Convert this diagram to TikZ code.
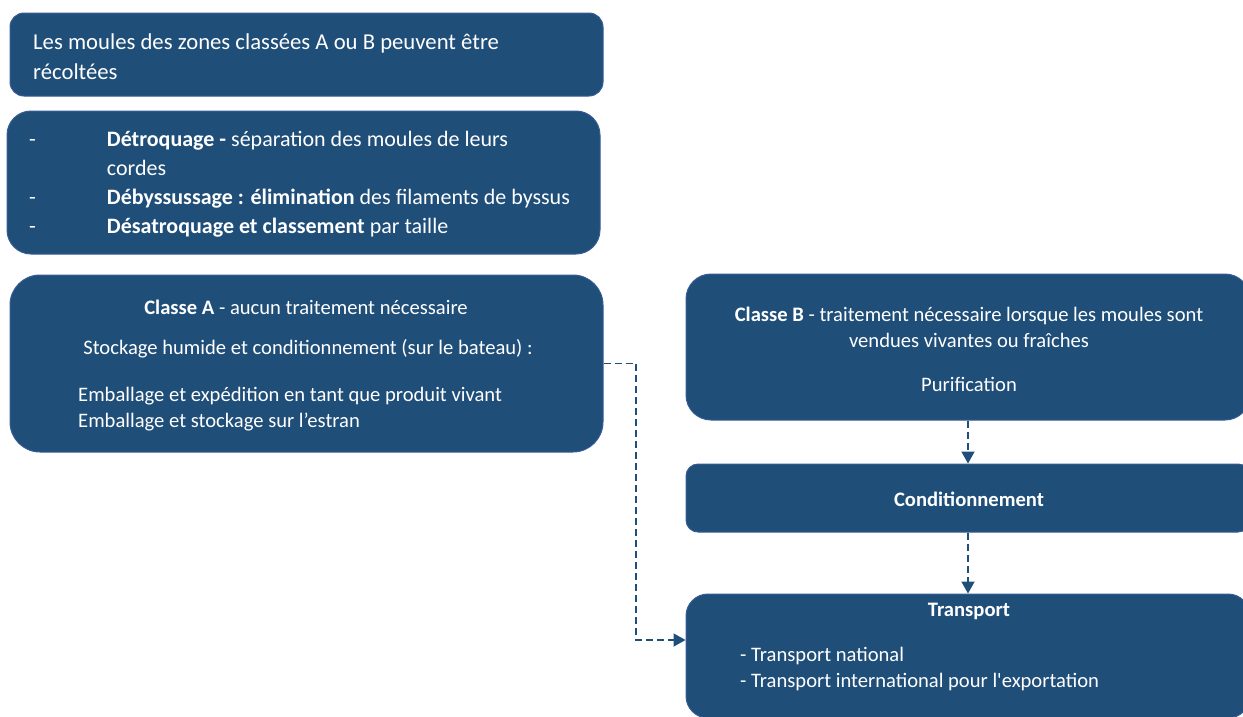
\documentclass[tikz,border=0pt]{standalone}
\usepackage{fontspec}
\setmainfont{Carlito}[Ligatures=TeXOff]
\usetikzlibrary{arrows.meta,positioning}
\definecolor{boxblue}{RGB}{31,78,121}
\definecolor{boxedge}{RGB}{55,92,150}

\begin{document}
\begin{tikzpicture}[x=1pt,y=-1pt,
        box/.style={draw=boxedge, line width=1pt, fill=boxblue, inner sep=0pt},
        txt/.style={text=white, inner sep=0pt},
        flow/.style={draw=boxblue, line width=1.8pt, dash pattern=on 7pt off 4pt,
            -{Triangle[length=12pt,width=13pt]}}]

        \useasboundingbox (0,0) rectangle (1243,716);
        \clip (0,0) rectangle (1243,716);

        % Harvest
        \node[box, rounded corners=14pt, minimum width=593pt, minimum height=83pt] (harvest) at (306.5,54.5) {};
        \node[txt, anchor=west, align=left, font=\fontsize{22.7}{30}\selectfont] (harvestT) at (33,57)
            {Les moules des zones classées A ou B peuvent être\\récoltées};

        % Preparation steps
        \node[box, rounded corners=24pt, minimum width=593pt, minimum height=143pt] (steps) at (303.5,182.5) {};
        \node[txt, anchor=west, font=\fontsize{22}{29}\selectfont] (stepsT) at (29,184)
            {\begin{tabular}{@{}l@{\hspace{71pt}}l@{}}
            - & \textbf{Détroquage -} séparation des moules de leurs\\
              & cordes\\
            - & \textbf{Débyssussage : élimination} des filaments de byssus\\
            - & \textbf{Désatroquage et classement} par taille
            \end{tabular}};

        % Class A
        \node[box, rounded corners=30pt, minimum width=593pt, minimum height=177pt] (clsA) at (306.5,363.5) {};
        \node[txt, font=\fontsize{20.6}{26}\selectfont] (clsAtitle) at (306,307)
            {\textbf{Classe A} - aucun traitement nécessaire};
        \node[txt, font=\fontsize{20.6}{26}\selectfont] (clsAstock) at (308,349)
            {Stockage humide et conditionnement (sur le bateau) :};
        \node[txt, anchor=west, align=left, font=\fontsize{20.6}{26}\selectfont] (clsAlist) at (78,409)
            {Emballage et expédition en tant que produit vivant\\Emballage et stockage sur l’estran};

        % Class B
        \node[box, rounded corners=25pt, minimum width=564pt, minimum height=146pt] (clsB) at (968,347) {};
        \node[txt, align=center, font=\fontsize{20.6}{26}\selectfont] (clsBtitle) at (969,327)
            {\textbf{Classe B} - traitement nécessaire lorsque les moules sont\\vendues vivantes ou fraîches};
        \node[txt, font=\fontsize{20.6}{26}\selectfont] (purif) at (969,384) {Purification};

        % Packaging
        \node[box, rounded corners=12pt, minimum width=564pt, minimum height=68pt] (cond) at (968,498) {};
        \node[txt, font=\bfseries\fontsize{20.6}{26}\selectfont] (condT) at (969,499) {Conditionnement};

        % Transport
        \node[box, rounded corners=22pt, minimum width=564pt, minimum height=124pt] (trans) at (968,656) {};
        \node[txt, font=\bfseries\fontsize{20.6}{26}\selectfont] (transT) at (969,611) {Transport};
        \node[txt, anchor=west, align=left, font=\fontsize{20.6}{26}\selectfont] (transL) at (740,669)
            {- Transport national\\- Transport international pour l'exportation};

        % Connectors
        \coordinate (bend) at (636,640);
        \draw[flow] (clsB.south) -- (cond.north);
        \draw[flow] (cond.south) -- (trans.north);
        \draw[flow] (clsA.east) -| (bend) -- (bend -| trans.west);
    \end{tikzpicture}
\end{document}
